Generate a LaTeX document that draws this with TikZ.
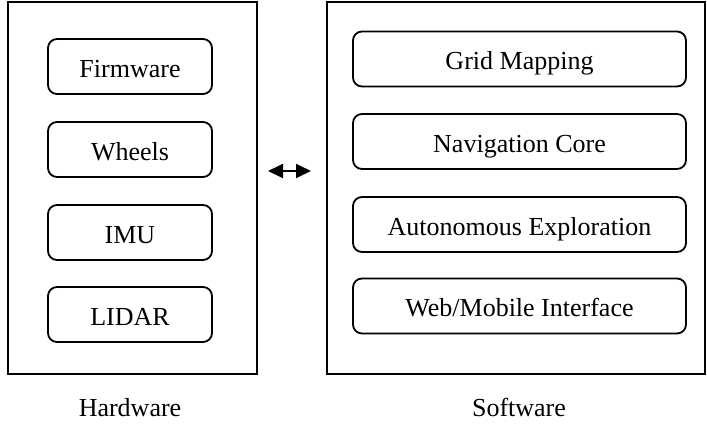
\documentclass[tikz,border=0pt]{standalone}
\usepackage{fontspec}
\setmainfont{Liberation Serif}
\usetikzlibrary{arrows.meta}
\begin{document}
\begin{tikzpicture}[x=1pt,y=-1pt,
  panel/.style={draw, line width=1.8pt, minimum height=372pt, inner sep=0pt},
  part/.style={draw, line width=1.8pt, rounded corners=9pt, minimum height=55pt,
    inner sep=0pt, text height=21pt, text depth=0pt, font=\fontsize{26}{30}\selectfont},
  hwpart/.style={part, minimum width=164pt},
  swpart/.style={part, minimum width=333pt},
  caption/.style={font=\fontsize{26}{30}\selectfont, text height=21pt, text depth=0pt},
  link/.style={line width=1.8pt, {Triangle[length=15pt,width=14pt]}-{Triangle[length=15pt,width=14pt]}}]
\useasboundingbox (0,0) rectangle (707,424);

% hardware panel and its parts
\node[panel, minimum width=249pt] (hw) at (132.5,188) {};
\node[hwpart] (fw)    at (130,66.5)  {Firmware};
\node[hwpart] (wh)    at (130,149.5) {Wheels};
\node[hwpart] (imu)   at (130,232.5) {IMU};
\node[hwpart] (lidar) at (130,314.5) {LIDAR};
\node[caption] (hwlabel) at (130,405.5) {Hardware};

% software panel and its modules
\node[panel, minimum width=378pt] (sw) at (516,188) {};
\node[swpart] (grid) at (519.5,59)    {Grid Mapping};
\node[swpart] (nav)  at (519.5,141.5) {Navigation Core};
\node[swpart] (auto) at (519.5,224.5) {Autonomous Exploration};
\node[swpart] (web)  at (519.5,306)   {Web/Mobile Interface};
\node[caption] (swlabel) at (519,405.5) {Software};

% two-way link between the panels
\coordinate (linkl) at (268,171);
\coordinate (linkr) at (311,171);
\draw[link] (linkl) -- (linkr);
\end{tikzpicture}
\end{document}
